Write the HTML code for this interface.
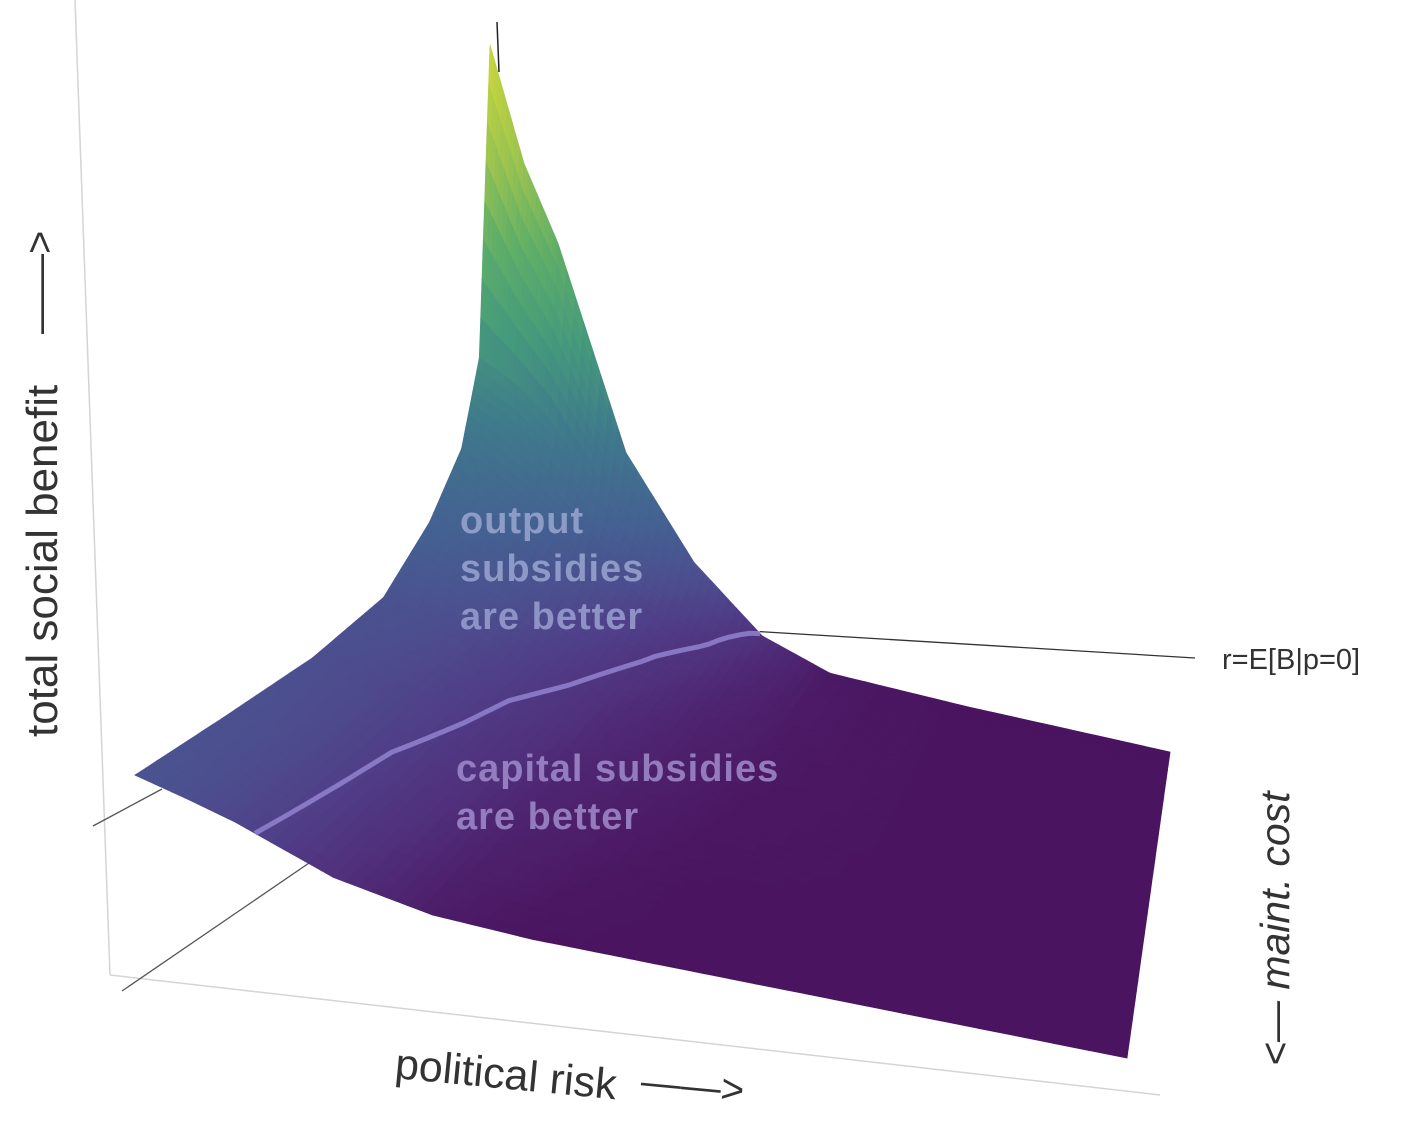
<!DOCTYPE html>
<html><head><meta charset="utf-8"><style>
html,body{margin:0;padding:0;background:#fff}
svg{display:block}
text{font-family:"Liberation Sans",sans-serif}
</style></head><body>
<svg id="chart" width="1404" height="1148" viewBox="0 0 1404 1148" xmlns="http://www.w3.org/2000/svg">
<g>
<line x1="75" y1="0" x2="110" y2="975" stroke="#d4d4d4" stroke-width="1.5"/>
<line x1="110" y1="975" x2="1160" y2="1095" stroke="#d4d4d4" stroke-width="1.5"/>
<line x1="93" y1="826" x2="162" y2="789" stroke="#555" stroke-width="1.3"/>
<line x1="122" y1="991" x2="312" y2="861" stroke="#555" stroke-width="1.3"/>
</g>
<g id="surface"></g>
<g id="overlay"></g>
<line x1="497" y1="22" x2="499" y2="72" stroke="#222" stroke-width="1.5"/>
<g font-weight="bold" font-size="38" letter-spacing="1">
<text fill="#9aa6d0" fill-opacity="0.85" x="460" y="533">output</text>
<text fill="#9aa6d0" fill-opacity="0.85" x="460" y="581">subsidies</text>
<text fill="#9aa0d0" fill-opacity="0.85" x="460" y="629">are better</text>
<text fill="#a08ccc" fill-opacity="0.85" x="456" y="781">capital subsidies</text>
<text fill="#a08ccc" fill-opacity="0.85" x="456" y="829">are better</text>
</g>
<text x="1222" y="669" font-size="29" fill="#333">r=E[B|p=0]</text>
<text transform="translate(57,737) rotate(-90)" font-size="44" fill="#333">total social benefit</text>
<text transform="translate(53,334) rotate(-90)" font-size="40" fill="#333">——&gt;</text>
<text transform="translate(394,1078) rotate(5.5)" font-size="43" fill="#333">political risk</text>
<text transform="translate(640,1094) rotate(5.5)" font-size="40" fill="#333">——&gt;</text>
<text transform="translate(1289,1066) rotate(-90)" font-size="41" font-style="italic" fill="#333">&lt;— maint. cost</text>
</svg>
<script>
// political risk grid (u) and maintenance-cost grid (v, 0=front, 1=back)
const riskGrid = [0, 0.05, 0.1, 0.2, 0.3, 0.4, 0.5, 0.7, 1];
const maintGrid = [0, 0.25, 0.5, 0.7, 0.83, 0.92, 0.97, 1];
// total social benefit values (rows follow maintGrid)
const benefitRow0 = [0.153, 0.13, 0.105, 0.04, 0.008, 0, 0, 0, 0];
const benefitRow1 = [0.14, 0.125, 0.105, 0.05, 0.015, 0.005, 0, 0, 0];
const benefitRow2 = [0.13, 0.12, 0.105, 0.06, 0.025, 0.01, 0.003, 0, 0];
const benefitRow3 = [0.145, 0.135, 0.12, 0.075, 0.035, 0.015, 0.005, 0, 0];
const benefitRow4 = [0.22, 0.2, 0.17, 0.1, 0.05, 0.022, 0.006, 0, 0];
const benefitRow5 = [0.31, 0.28, 0.24, 0.14, 0.07, 0.03, 0.006, 0, 0];
const benefitRow6 = [0.45, 0.42, 0.37, 0.22, 0.11, 0.04, 0.006, 0, 0];
const benefitRow7 = [1.0, 0.8, 0.67, 0.32, 0.15, 0.045, 0.005, 0, 0];
// indifference boundary r=E[B|p=0]
const contourRisk = [0.121, 0.15, 0.2, 0.3, 0.397];
const contourMaint = [0, 0.35, 0.6, 0.85, 1];

const Z = [benefitRow0, benefitRow1, benefitRow2, benefitRow3, benefitRow4, benefitRow5, benefitRow6, benefitRow7];
const FL = [135, 860], FR = [1127, 1058], BR = [1170, 752], BL = [490, 600], ZS = 555;
function project(u, v, z) {
  const fx = FL[0] + (FR[0] - FL[0]) * u, fy = FL[1] + (FR[1] - FL[1]) * u;
  const bx = BL[0] + (BR[0] - BL[0]) * u, by = BL[1] + (BR[1] - BL[1]) * u;
  return [fx + (bx - fx) * v, fy + (by - fy) * v - z * ZS];
}
function idx(g, t) { let i = 0; while (i < g.length - 2 && t > g[i + 1]) i++; return i; }
function zAt(u, v) {
  const i = idx(riskGrid, u), j = idx(maintGrid, v);
  const a = (u - riskGrid[i]) / (riskGrid[i + 1] - riskGrid[i]);
  const b = (v - maintGrid[j]) / (maintGrid[j + 1] - maintGrid[j]);
  return (Z[j][i] * (1 - a) + Z[j][i + 1] * a) * (1 - b) + (Z[j + 1][i] * (1 - a) + Z[j + 1][i + 1] * a) * b;
}
const stops = [[0, [74, 20, 96]], [0.01, [77, 30, 106]], [0.04, [80, 48, 124]], [0.08, [80, 62, 136]], [0.13, [76, 79, 143]], [0.2, [69, 95, 146]], [0.35, [63, 122, 140]], [0.5, [69, 154, 124]], [0.65, [95, 174, 104]], [0.8, [156, 196, 80]], [1, [208, 216, 58]]];
function color(z, u) {
  z = Math.max(0, Math.min(1, z));
  let k = 0; while (k < stops.length - 2 && z > stops[k + 1][0]) k++;
  const t = (z - stops[k][0]) / (stops[k + 1][0] - stops[k][0]);
  const c = stops[k][1].map((x, n) => Math.round(x + (stops[k + 1][1][n] - x) * t));
  return `rgb(${c[0]},${c[1]},${c[2]})`;
}
const NS = 'http://www.w3.org/2000/svg';
const surf = document.getElementById('surface');
const SUB = 8;
for (let j = maintGrid.length - 2; j >= 0; j--) {
  for (let sj = SUB - 1; sj >= 0; sj--) {
    const v0 = maintGrid[j] + (maintGrid[j + 1] - maintGrid[j]) * sj / SUB;
    const v1 = maintGrid[j] + (maintGrid[j + 1] - maintGrid[j]) * (sj + 1) / SUB;
    for (let i = 0; i < riskGrid.length - 1; i++) {
      for (let si = 0; si < SUB; si++) {
        const u0 = riskGrid[i] + (riskGrid[i + 1] - riskGrid[i]) * si / SUB;
        const u1 = riskGrid[i] + (riskGrid[i + 1] - riskGrid[i]) * (si + 1) / SUB;
        const zs = [zAt(u0, v0), zAt(u1, v0), zAt(u1, v1), zAt(u0, v1)];
        const pts = [project(u0, v0, zs[0]), project(u1, v0, zs[1]), project(u1, v1, zs[2]), project(u0, v1, zs[3])];
        const p = document.createElementNS(NS, 'polygon');
        
        
        p.setAttribute('points', pts.map(q => q[0].toFixed(1) + ',' + q[1].toFixed(1)).join(' '));
        const c = color((zs[0] + zs[1] + zs[2] + zs[3]) / 4);
        p.setAttribute('fill', c);
        p.setAttribute('stroke', c);
        p.setAttribute('stroke-width', '0.8');
        surf.appendChild(p);
      }
    }
  }
}
const ov = document.getElementById('overlay');
const cpts = [];
for (let k = 0; k < contourRisk.length - 1; k++) {
  for (let s = 0; s < 10; s++) {
    const t = s / 10;
    const u = contourRisk[k] + (contourRisk[k + 1] - contourRisk[k]) * t;
    const v = contourMaint[k] + (contourMaint[k + 1] - contourMaint[k]) * t;
    cpts.push(project(u, v, zAt(u, v)));
  }
}
const ue = contourRisk[contourRisk.length - 1], ve = contourMaint[contourMaint.length - 1];
const endP = project(ue, ve, zAt(ue, ve));
cpts.push(endP);
const pl = document.createElementNS(NS, 'polyline');


pl.setAttribute('points', cpts.map(q => q[0].toFixed(1) + ',' + q[1].toFixed(1)).join(' '));
pl.setAttribute('fill', 'none');
pl.setAttribute('stroke', '#9282d0');
pl.setAttribute('stroke-width', '5');
pl.setAttribute('stroke-opacity', '0.85');
ov.appendChild(pl);
const ld = document.createElementNS(NS, 'line');


ld.setAttribute('x1', endP[0]); ld.setAttribute('y1', endP[1] - 2);
ld.setAttribute('x2', 1195); ld.setAttribute('y2', 658);
ld.setAttribute('stroke', '#333'); ld.setAttribute('stroke-width', '1.3');
ov.appendChild(ld);
</script>
</body></html>
